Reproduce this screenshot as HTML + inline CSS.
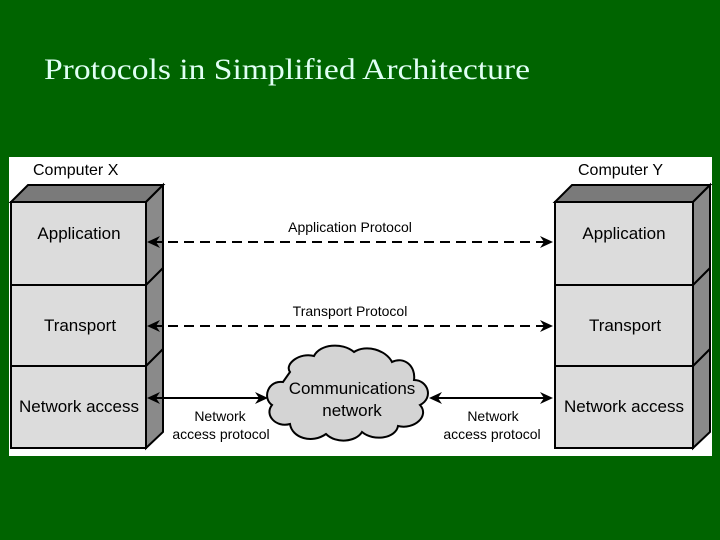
<!DOCTYPE html>
<html><head><style>
html,body{margin:0;padding:0;width:720px;height:540px;background:#006400;overflow:hidden}
</style></head><body>
<svg width="720" height="540" viewBox="0 0 720 540" xmlns="http://www.w3.org/2000/svg">
<rect width="720" height="540" fill="#006400"/>
<text x="44" y="79" font-family="Liberation Serif, serif" font-size="30" fill="#e0fff4" textLength="486" lengthAdjust="spacingAndGlyphs">Protocols in Simplified Architecture</text>
<rect x="9" y="157" width="703" height="299" fill="#fff"/>
<g font-family="Liberation Sans, sans-serif" fill="#000">
<text x="33" y="175" font-size="16">Computer X</text>
<text x="578" y="175" font-size="16">Computer Y</text>
</g>
<g stroke="#000" stroke-width="2" stroke-linejoin="miter">
<polygon points="11,202 28,185 163,185 146,202" fill="#7a7a7a"/>
<polygon points="146,202 163,185 163,432 146,448" fill="#8a8a8a"/>
<polyline points="146,285 163,268" fill="none"/>
<polyline points="146,366 163,349" fill="none"/>
<rect x="11" y="202" width="135" height="246" fill="#dcdcdc"/>
<line x1="11" y1="285" x2="146" y2="285"/>
<line x1="11" y1="366" x2="146" y2="366"/>
<polygon points="555,202 572,185 710,185 693,202" fill="#7a7a7a"/>
<polygon points="693,202 710,185 710,432 693,448" fill="#8a8a8a"/>
<polyline points="693,285 710,268" fill="none"/>
<polyline points="693,366 710,349" fill="none"/>
<rect x="555" y="202" width="138" height="246" fill="#dcdcdc"/>
<line x1="555" y1="285" x2="693" y2="285"/>
<line x1="555" y1="366" x2="693" y2="366"/>
<line x1="152" y1="242" x2="548" y2="242" stroke-dasharray="10,6"/>
<line x1="152" y1="326" x2="548" y2="326" stroke-dasharray="10,6"/>
<line x1="152" y1="398" x2="262" y2="398"/>
<line x1="434" y1="398" x2="548" y2="398"/>
</g>
<g fill="#000">
<polygon points="147,242 160,236 156,242 160,248"/>
<polygon points="553,242 540,236 544,242 540,248"/>
<polygon points="147,326 160,320 156,326 160,332"/>
<polygon points="553,326 540,320 544,326 540,332"/>
<polygon points="147,398 160,392 156,398 160,404"/>
<polygon points="268,398 255,392 259,398 255,404"/>
<polygon points="429,398 442,392 438,398 442,404"/>
<polygon points="553,398 540,392 544,398 540,404"/>
</g>
<path d="M283,382 C268,380 262,398 272,405 C264,415 276,428 290,424 C292,438 312,444 326,434 C336,444 356,442 362,432 C374,442 396,438 398,426 C414,430 430,416 420,405 C434,398 428,380 414,380 C416,366 404,356 392,362 C386,350 366,344 354,352 C342,342 320,344 314,356 C300,352 284,364 290,372 Z" fill="#d4d4d4" stroke="#000" stroke-width="2"/>
<g font-family="Liberation Sans, sans-serif" fill="#000" text-anchor="middle">
<text x="79" y="239" font-size="17">Application</text>
<text x="80" y="331" font-size="17">Transport</text>
<text x="79" y="412" font-size="17">Network access</text>
<text x="624" y="239" font-size="17">Application</text>
<text x="625" y="331" font-size="17">Transport</text>
<text x="624" y="412" font-size="17">Network access</text>
<text x="350" y="232" font-size="14">Application Protocol</text>
<text x="350" y="316" font-size="14">Transport Protocol</text>
<text x="352" y="394" font-size="17">Communications</text>
<text x="352" y="416" font-size="17">network</text>
<text x="220" y="421" font-size="14">Network</text>
<text x="221" y="439" font-size="14">access protocol</text>
<text x="493" y="421" font-size="14">Network</text>
<text x="492" y="439" font-size="14">access protocol</text>
</g>
</svg>
</body></html>
